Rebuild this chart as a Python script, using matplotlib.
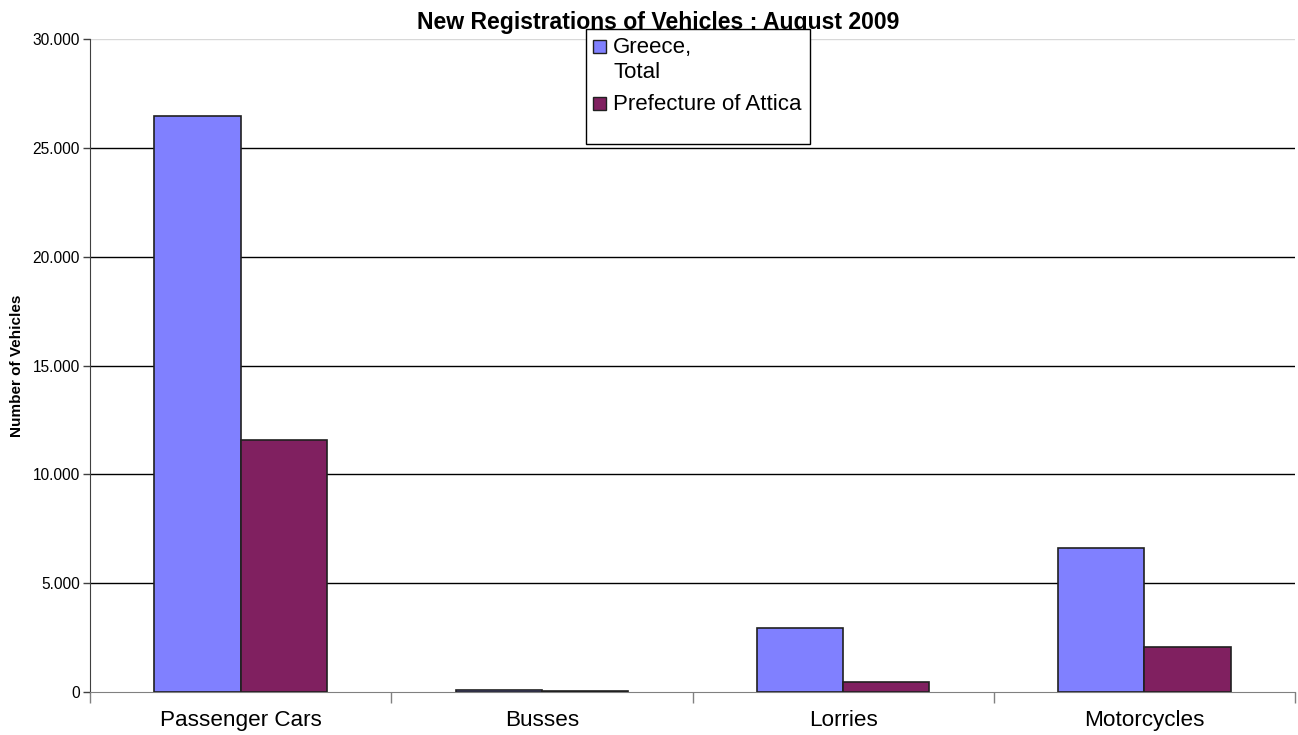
import matplotlib
matplotlib.use("Agg")
import matplotlib.pyplot as plt
from matplotlib.patches import Rectangle
from matplotlib.ticker import FuncFormatter, FixedLocator
import numpy as np

plt.rcParams['font.family'] = ['Liberation Sans', 'DejaVu Sans']

categories = ["Passenger Cars", "Busses", "Lorries", "Motorcycles"]
series_names = ["Greece,\nTotal", "Prefecture of Attica"]
greece_total = [26440, 70, 2950, 6600]
attica = [11560, 40, 445, 2050]
colors = ["#8080FF", "#802060"]
yticks = [0, 5000, 10000, 15000, 20000, 25000, 30000]

W, H = 1298, 735
fig = plt.figure(figsize=(W / 100, H / 100), dpi=100)
ax = fig.add_axes([90 / W, 1 - 692 / H, (1295 - 90) / W, (692 - 39) / H])

x = np.arange(len(categories))
bw = 0.286
for vals, off, c in [(greece_total, -bw / 2, colors[0]), (attica, bw / 2, colors[1])]:
    ax.bar(x + off, vals, width=bw, color=c, edgecolor="#202020", linewidth=1.2, zorder=3)

ax.set_xlim(-0.5, len(categories) - 0.5)
ax.set_ylim(0, 30000)

# gridlines
for v in yticks[1:-1]:
    ax.axhline(v, color="black", linewidth=1.0, zorder=1)
ax.axhline(yticks[-1], color="#d8d8d8", linewidth=1.0, zorder=1)

ax.spines['top'].set_visible(False)
ax.spines['right'].set_visible(False)
ax.spines['left'].set_color("#404040")
ax.spines['bottom'].set_color("#808080")

ax.set_yticks(yticks)
ax.yaxis.set_major_formatter(FuncFormatter(lambda v, p: f"{int(v):,}".replace(",", ".")))
ax.tick_params(axis='y', direction='out', length=5, width=1, colors="#404040", labelsize=11.2,
               labelcolor="black", pad=2.2)

ax.set_xticks(x)
ax.set_xticklabels(categories, fontsize=16.2)
ax.tick_params(axis='x', which='major', length=0, pad=13)
ax.xaxis.set_minor_locator(FixedLocator(np.arange(-0.5, len(categories), 1.0)))
ax.tick_params(axis='x', which='minor', direction='out', length=8, width=1, colors="#808080")

ax.set_ylabel("Number of Vehicles", fontsize=11, fontweight='bold')
ax.yaxis.set_label_coords(-66 / (1295 - 90), 0.5)

fig.text(658 / W, 1 - 23 / H, "New Registrations of Vehicles : August 2009", ha='center', va='center',
         fontsize=16.6, fontweight='bold')

# legend (manual, Excel style)
lx0, ly0, lx1, ly1 = 586, 29, 810, 144
fig.patches.append(Rectangle((lx0 / W, 1 - ly1 / H), (lx1 - lx0) / W, (ly1 - ly0) / H,
                             transform=fig.transFigure, facecolor="white", edgecolor="black",
                             linewidth=1.0, zorder=10))
entries = [(series_names[0], colors[0], 46), (series_names[1], colors[1], 103)]
for name, c, yc in entries:
    fig.patches.append(Rectangle((593 / W, 1 - (yc + 7) / H), 13 / W, 13 / H,
                                 transform=fig.transFigure, facecolor=c, edgecolor="#202020",
                                 linewidth=1.0, zorder=11))
    fig.text(613 / W, 1 - (yc - 8.5) / H, name, ha='left', va='top', fontsize=16, zorder=12,
             linespacing=1.22)

fig.savefig("out.png", dpi=100)
